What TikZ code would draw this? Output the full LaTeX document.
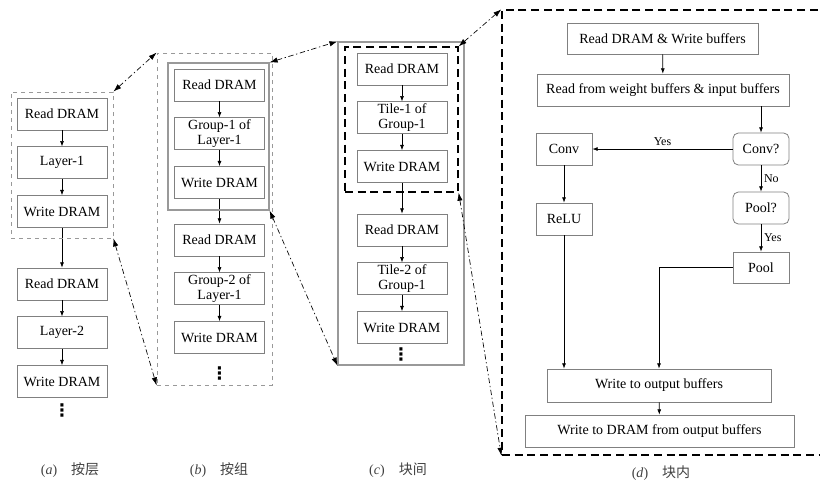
\documentclass[tikz,border=0pt]{standalone}
\usepackage{fontspec}
\setmainfont{Liberation Serif}
\newfontfamily\cjk{Noto Sans CJK SC}
\newfontfamily\symfont{DejaVu Sans}
\usetikzlibrary{arrows.meta, positioning, fit}
\tikzset{
  blk/.style={rectangle, draw=black!50, line width=0.6pt,
              minimum width=67.5pt, minimum height=24pt, inner sep=1pt,
              align=center, font=\fontsize{10.5}{11.5}\selectfont},
  sml/.style={blk, minimum width=42pt},
  dec/.style={sml, rounded corners=4pt},
  arr/.style={-{Latex[length=4pt,width=3pt]}, line width=0.5pt},
  zoomln/.style={{Latex[length=6pt,width=4pt]}-{Latex[length=6pt,width=4pt]},
                 line width=0.5pt, dash pattern=on 4pt off 2pt on 1pt off 2pt},
  gframe/.style={draw=black!40, dashed, line width=0.6pt, inner sep=0pt},
  sframe/.style={draw=black!40, line width=0.9pt, inner sep=0pt},
  kframe/.style={draw=black, dash pattern=on 6pt off 3.5pt, line width=1pt, inner sep=0pt},
  capt/.style={font=\fontsize{10.5}{12}\selectfont, text=black!75},
  lbl/.style={font=\fontsize{9}{10}\selectfont, inner sep=2pt},
  vdot/.style={font=\fontsize{13}{13}\symfont\bfseries, inner sep=0pt}
}

\begin{document}
\begin{tikzpicture}[x=0.75pt, y=-0.75pt, node distance=12pt]
  \useasboundingbox (0,0) rectangle (820,483);

  % (a) by layer
  \node[blk] (ra1) at (62,114) {Read DRAM};
  \node[blk, below=of ra1] (la1) {Layer-1};
  \node[blk, below=of la1] (wa1) {Write DRAM};
  \node[blk] (ra2) at (62,284) {Read DRAM};
  \node[blk, below=of ra2] (la2) {Layer-2};
  \node[blk, below=of la2] (wa2) {Write DRAM};
  \node[vdot] (da) at (62,410) {⋮};
  \foreach \s/\t in {ra1/la1, la1/wa1, wa1/ra2, ra2/la2, la2/wa2}
    \draw[arr] (\s) -- (\t);
  \node[gframe, fit={(11,92) (113,238)}] (fa) {};

  % (b) by group
  \node[blk] (rb1) at (219.5,85) {Read DRAM};
  \node[blk, below=of rb1] (gb1) {Group-1 of\\Layer-1};
  \node[blk, below=of gb1] (wb1) {Write DRAM};
  \node[blk] (rb2) at (219.5,240) {Read DRAM};
  \node[blk, below=of rb2] (gb2) {Group-2 of\\Layer-1};
  \node[blk, below=of gb2] (wb2) {Write DRAM};
  \node[vdot] (db) at (219.5,373) {⋮};
  \foreach \s/\t in {rb1/gb1, gb1/wb1, wb1/rb2, rb2/gb2, gb2/wb2}
    \draw[arr] (\s) -- (\t);
  \node[sframe, fit={(168,63) (269,210)}] (ib) {};
  \node[gframe, fit={(157,53) (272,385)}] (fb) {};

  % (c) between tiles
  \node[blk] (rc1) at (402,69) {Read DRAM};
  \node[blk, below=of rc1] (tc1) {Tile-1 of\\Group-1};
  \node[blk, below=of tc1] (wc1) {Write DRAM};
  \node[blk] (rc2) at (402,230) {Read DRAM};
  \node[blk, below=of rc2] (tc2) {Tile-2 of\\Group-1};
  \node[blk, below=of tc2] (wc2) {Write DRAM};
  \node[vdot] (dc) at (401,354) {⋮};
  \foreach \s/\t in {rc1/tc1, tc1/wc1, wc1/rc2, rc2/tc2, tc2/wc2}
    \draw[arr] (\s) -- (\t);
  \node[kframe, fit={(345,47) (458,192)}] (ic) {};
  \node[sframe, fit={(338,42) (464,365)}] (fc) {};

  % (d) inside a tile
  \node[blk, minimum width=143.25pt, minimum height=23.25pt] (rw) at (662.5,38.5) {Read DRAM \& Write buffers};
  \node[blk, minimum width=189pt] (rf) at (663,90) {Read from weight buffers \& input buffers};
  \node[sml] (conv) at (564,149) {Conv};
  \node[dec] (convq) at (761,149) {Conv?};
  \node[dec] (poolq) at (761,208) {Pool?};
  \node[sml] (relu) at (564,219) {ReLU};
  \node[sml, minimum height=23.25pt] (pool) at (761,267.5) {Pool};
  \node[blk, minimum width=168pt, minimum height=24.75pt] (wo) at (659,385.5) {Write to output buffers};
  \node[blk, minimum width=201.75pt] (wd) at (659.5,431) {Write to DRAM from output buffers};
  \draw[arr] (rw) -- (rf);
  \draw[arr] (rf.south -| convq.north) -- (convq.north);
  \draw[arr] (convq) -- node[lbl, above] {Yes} (conv);
  \draw[arr] (convq) -- node[lbl, right] {No} (poolq);
  \draw[arr] (poolq) -- node[lbl, right] {Yes} (pool);
  \draw[arr] (conv) -- (relu);
  \draw[arr] (relu) -- (relu |- wo.north);
  \draw[arr] (pool.west) -| (wo.north);
  \draw[arr] (wo) -- (wd);
  \node[kframe, fit={(502,10) (830,455)}] (fd) {};

  % zoom links
  \draw[zoomln] (fa.north east) -- (fb.north west);
  \draw[zoomln] (fa.south east) -- (fb.south west);
  \draw[zoomln] (ib.north east) -- (fc.north west);
  \draw[zoomln] (ib.south east) -- (fc.south west);
  \draw[zoomln] (ic.north east) -- (fd.north west);
  \draw[zoomln] (ic.south east) -- (fd.south west);

  % captions
  \node[capt] (ca) at (70,470) {(\textit{a})\quad{\cjk 按层}};
  \node[capt] (cb) at (219,470) {(\textit{b})\quad{\cjk 按组}};
  \node[capt] (cc) at (398,470) {(\textit{c})\quad{\cjk 块间}};
  \node[capt] (cd) at (661,473) {(\textit{d})\quad{\cjk 块内}};
\end{tikzpicture}
\end{document}
